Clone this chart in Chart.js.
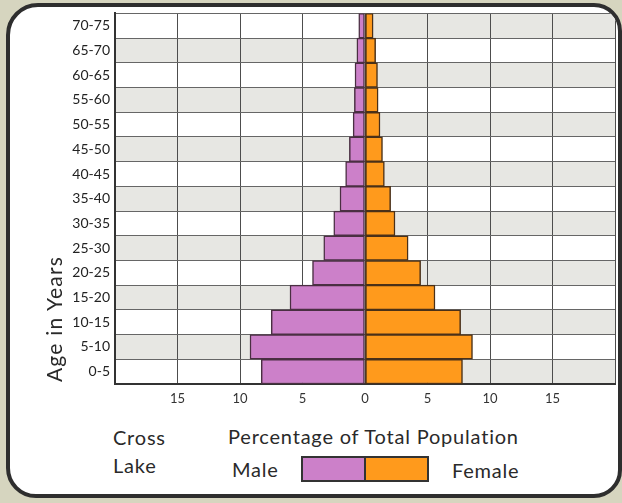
<!DOCTYPE html>
<html>
<head>
<meta charset="utf-8">
<script src="https://cdn.jsdelivr.net/npm/chart.js@4"></script>
<style>
  body { margin: 0; width: 622px; height: 503px; background: #d6d5bf; position: relative; overflow: hidden; font-family: Lato, sans-serif; color: #2a2a2a; }
  #card { position: absolute; left: 6px; top: 3px; width: 616px; height: 495px; box-sizing: border-box;
          border: 4px solid #2e2e2e; border-radius: 32px 28px 28px 30px; background: #fff; overflow: hidden; }
  #pyramid { position: absolute; left: -10px; top: -7px; }
  .txt { position: absolute; white-space: nowrap; line-height: 1; font-size: 20px; letter-spacing: 0.8px; }
  #yTitle { left: -26px; top: 307px; width: 160px; height: 24px; line-height: 24px; text-align: center;
            font-size: 21px; letter-spacing: 1.2px; transform: rotate(-90deg); }
  #legendBox { position: absolute; left: 301px; top: 456px; width: 128px; height: 26px; box-sizing: border-box;
               border: 2px solid #333; display: flex; }
  #legendBox div { flex: 1; }
</style>
</head>
<body>
<div id="card"><canvas id="pyramid" width="622" height="420"></canvas></div>
<div id="yTitle" class="txt">Age in Years</div>
<div class="txt" style="left:113px; top:427px;">Cross</div>
<div class="txt" style="left:113px; top:455px;">Lake</div>
<div class="txt" style="left:228px; top:426px;">Percentage of Total Population</div>
<div class="txt" style="left:232px; top:459px;">Male</div>
<div id="legendBox"><div style="background:#cc80c9; border-right:2px solid #333;"></div><div style="background:#ff9a1c;"></div></div>
<div class="txt" style="left:452px; top:460px;">Female</div>
<script>
// Cross Lake population by age group, percent of total population
const ageGroups = ['0-5', '5-10', '10-15', '15-20', '20-25', '25-30', '30-35', '35-40',
                   '40-45', '45-50', '50-55', '55-60', '60-65', '65-70', '70-75'];
const malePercent = [8.3, 9.2, 7.5, 6.0, 4.2, 3.3, 2.5, 2.0, 1.55, 1.25, 0.95, 0.85, 0.8, 0.65, 0.5];
const femalePercent = [7.8, 8.6, 7.65, 5.6, 4.45, 3.45, 2.4, 2.05, 1.55, 1.4, 1.2, 1.05, 1.0, 0.85, 0.65];
const xTicks = [-20, -15, -10, -5, 0, 5, 10, 15, 20];

// alternating grey cells, swapped between the male and female halves
const cellShading = {
  id: 'cellShading',
  beforeDraw(chart) {
    const { ctx, chartArea: a, scales: { x, y } } = chart;
    const mid = x.getPixelForValue(0);
    const rowH = a.height / ageGroups.length;
    ctx.save();
    ctx.fillStyle = '#e7e7e3';
    ageGroups.forEach((g, i) => {
      const top = y.getPixelForValue(i) - rowH / 2;
      if (i % 2) ctx.fillRect(a.left, top, mid - a.left, rowH);
      else ctx.fillRect(mid, top, a.right - mid, rowH);
    });
    ctx.restore();
  }
};

new Chart(document.getElementById('pyramid'), {
  type: 'bar',
  data: {
    labels: ageGroups,
    datasets: [
      { label: 'Male', data: malePercent.map(v => -v), backgroundColor: '#cc80c9',
        borderColor: '#4a2f42', borderWidth: 1.5, borderSkipped: false },
      { label: 'Female', data: femalePercent, backgroundColor: '#ff9a1c',
        borderColor: '#4a3018', borderWidth: 1.5, borderSkipped: false }
    ]
  },
  options: {
    indexAxis: 'y',
    responsive: false,
    animation: false,
    barPercentage: 1,
    categoryPercentage: 1,
    layout: { padding: { left: 0, right: 4, top: 8, bottom: 0 } },
    plugins: { legend: { display: false }, tooltip: { enabled: false } },
    scales: {
      x: {
        stacked: true,
        min: -20, max: 20,
        afterBuildTicks: s => { s.ticks = xTicks.map(v => ({ value: v })); },
        afterFit: s => { s.height = 36; },
        grid: { color: '#4d4d4d', lineWidth: 1, drawTicks: false },
        border: { color: '#333', width: 2 },
        ticks: {
          padding: 7,
          color: '#333',
          font: { family: 'Lato', size: 13 },
          callback: v => Math.abs(v) === 20 ? '' : Math.abs(v)
        }
      },
      y: {
        stacked: true,
        reverse: true,
        afterFit: s => { s.width = 115; },
        grid: { color: '#666', lineWidth: 1, drawTicks: false },
        border: { color: '#333', width: 2 },
        ticks: { padding: 5, color: '#222', font: { family: 'Lato', size: 14 } }
      }
    }
  },
  plugins: [cellShading]
});
</script>
</body>
</html>
